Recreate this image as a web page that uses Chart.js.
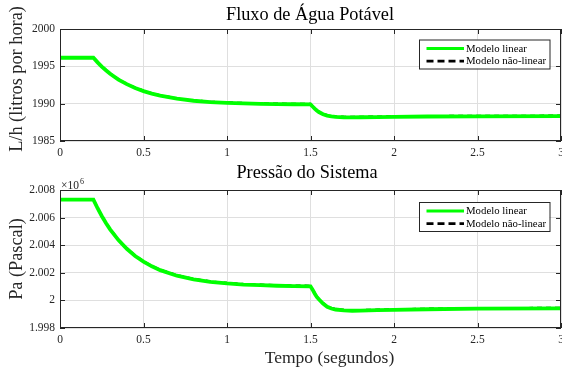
<!DOCTYPE html>
<html>
<head>
<meta charset="utf-8">
<script src="https://cdn.jsdelivr.net/npm/chart.js@4.4.1/dist/chart.umd.min.js"></script>
<style>
  html, body { margin: 0; padding: 0; background: #fff; }
  body { width: 562px; height: 372px; overflow: hidden; position: relative; }
  canvas { position: absolute; left: 0; }
  #fluxo { top: 0; }
  #pressao { top: 160px; }
</style>
</head>
<body>
<canvas id="fluxo" width="600" height="170"></canvas>
<canvas id="pressao" width="600" height="212"></canvas>
<script>
// ==== データ====
const tempo = [0, 0.2, 0.225, 0.25, 0.275, 0.3, 0.35, 0.4, 0.45, 0.5, 0.55, 0.6,
  0.7, 0.8, 0.9, 1.0, 1.1, 1.2, 1.3, 1.4, 1.5,
  1.5125, 1.525, 1.5375, 1.55, 1.575, 1.6, 1.625, 1.65,
  1.7, 1.75, 1.8, 1.9, 2.0, 2.2, 2.5, 3.0];

// Fluxo de Água Potável (L/h)
const fluxoLinear = [1996.15, 1996.15, 1995.53, 1994.97, 1994.47, 1994.01, 1993.23, 1992.61, 1992.09, 1991.68, 1991.34, 1991.07,
  1990.66, 1990.39, 1990.22, 1990.11, 1990.03, 1989.98, 1989.94, 1989.92, 1989.90,
  1989.62, 1989.33, 1989.08, 1988.88, 1988.58, 1988.40, 1988.29, 1988.23,
  1988.18, 1988.17, 1988.18, 1988.21, 1988.24, 1988.28, 1988.31, 1988.33];
const fluxoNaoLinear = [1996.25, 1996.25, 1995.63, 1995.07, 1994.57, 1994.11, 1993.33, 1992.71, 1992.19, 1991.78, 1991.44, 1991.17,
  1990.76, 1990.49, 1990.32, 1990.21, 1990.13, 1990.08, 1990.04, 1990.02, 1990.00,
  1989.72, 1989.44, 1989.19, 1988.98, 1988.68, 1988.50, 1988.39, 1988.33,
  1988.28, 1988.27, 1988.28, 1988.31, 1988.34, 1988.38, 1988.41, 1988.43];

// Pressão do Sistema (×10^6 Pa)
const pressaoLinear = [2.00730, 2.00730, 2.00668, 2.00612, 2.00561, 2.00515, 2.00437, 2.00374, 2.00322, 2.00281, 2.00247, 2.00219,
  2.00179, 2.00152, 2.00134, 2.00123, 2.00115, 2.00110, 2.00106, 2.00104, 2.00102,
  2.00078, 2.00050, 2.00025, 2.00008, 1.99977, 1.99954, 1.99941, 1.99934,
  1.99927, 1.99925, 1.99926, 1.99929, 1.99932, 1.99936, 1.99940, 1.99942];
const pressaoNaoLinear = [2.00736, 2.00736, 2.00674, 2.00618, 2.00567, 2.00521, 2.00443, 2.00380, 2.00328, 2.00287, 2.00253, 2.00225,
  2.00185, 2.00158, 2.00140, 2.00129, 2.00121, 2.00116, 2.00112, 2.00110, 2.00108,
  2.00084, 2.00057, 2.00032, 2.00014, 1.99983, 1.99960, 1.99947, 1.99940,
  1.99933, 1.99931, 1.99932, 1.99935, 1.99938, 1.99942, 1.99946, 1.99948];

// 目盛り
const xTicks = [0, 0.5, 1, 1.5, 2, 2.5, 3];
const xTickLabels = ["0", "0.5", "1", "1.5", "2", "2.5", "3"];
const yTicksFluxo = [1985, 1990, 1995, 2000];
const yTickLabelsFluxo = ["1985", "1990", "1995", "2000"];
const yTicksPressao = [1.998, 2, 2.002, 2.004, 2.006, 2.008];
const yTickLabelsPressao = ["1.998", "2", "2.002", "2.004", "2.006", "2.008"];

const serieLabels = ["Modelo linear", "Modelo não-linear"];

// ==== スタイル ====
const SERIF = '"Liberation Serif", "Times New Roman", serif';
const AXIS_COLOR = "#262626";
const GRID_COLOR = "#dfdfdf";

function serie(ys) { return tempo.map((t, i) => ({ x: t, y: ys[i] })); }

/** MATLAB 風の枠・内向き目盛り・凡例・文字 */
const matlabLook = {
  id: "matlabLook",
  afterDraw(chart, args, o) {
    const { ctx, chartArea: a, scales } = chart;
    ctx.save();

    // 枠
    ctx.strokeStyle = AXIS_COLOR;
    ctx.lineWidth = 1;
    ctx.strokeRect(a.left + 0.5, a.top + 0.5, a.right - a.left - 1, a.bottom - a.top - 1);

    // 内向き目盛り
    const TL = 5;
    ctx.beginPath();
    scales.x.ticks.forEach(t => {
      const px = Math.round(scales.x.getPixelForValue(t.value)) + 0.5;
      ctx.moveTo(px, a.bottom); ctx.lineTo(px, a.bottom - TL);
      ctx.moveTo(px, a.top); ctx.lineTo(px, a.top + TL);
    });
    scales.y.ticks.forEach(t => {
      const py = Math.round(scales.y.getPixelForValue(t.value)) + 0.5;
      ctx.moveTo(a.left, py); ctx.lineTo(a.left + TL, py);
      ctx.moveTo(a.right, py); ctx.lineTo(a.right - TL, py);
    });
    ctx.stroke();

    // 凡例
    const bx = o.legendLeft, by = a.top + o.legendTop, bw = 130.5, bh = 29;
    ctx.fillStyle = "#fff";
    ctx.fillRect(bx, by, bw, bh);
    ctx.strokeStyle = AXIS_COLOR;
    ctx.lineWidth = 1;
    ctx.strokeRect(bx + 0.5, by + 0.5, bw, bh);
    ctx.font = `10.8px ${SERIF}`;
    ctx.textBaseline = "middle";
    ctx.textAlign = "left";
    chart.data.datasets.forEach((ds, i) => {
      const ly = by + 9 + i * 12.6;
      ctx.save();
      ctx.strokeStyle = ds.borderColor;
      ctx.lineWidth = i === 0 ? 3 : 2.6;
      ctx.setLineDash(ds.borderDash ? [7, 4] : []);
      ctx.beginPath();
      ctx.moveTo(bx + 7.5, ly); ctx.lineTo(bx + 45, ly);
      ctx.stroke();
      ctx.restore();
      ctx.fillStyle = "#000";
      ctx.fillText(ds.label, bx + 47, ly + 0.5);
    });

    // タイトル
    ctx.fillStyle = "#000";
    ctx.textBaseline = "alphabetic";
    ctx.textAlign = "center";
    ctx.font = `18.3px ${SERIF}`;
    ctx.fillText(o.title, o.titleX, o.titleY);

    // x 軸ラベル
    if (o.xLabel) {
      ctx.fillStyle = AXIS_COLOR;
      ctx.font = `17.5px ${SERIF}`;
      ctx.fillText(o.xLabel, o.xLabelX, o.xLabelY);
    }

    // y 軸ラベル（回転）
    ctx.fillStyle = AXIS_COLOR;
    ctx.font = `18.3px ${SERIF}`;
    ctx.save();
    ctx.translate(22, o.yLabelY);
    ctx.rotate(-Math.PI / 2);
    ctx.fillText(o.yLabel, 0, 0);
    ctx.restore();

    // ×10^6
    if (o.exponent) {
      ctx.textAlign = "left";
      ctx.font = `11.5px ${SERIF}`;
      ctx.fillText("×10", 61, o.exponentY);
      ctx.font = `8px ${SERIF}`;
      ctx.fillText(o.exponent, 80, o.exponentY - 4.4);
    }
    ctx.restore();
  }
};

function makeChart(canvasId, linear, naoLinear, yTicks, yTickLabels, yMin, yMax, xAxisHeight, padTop, deco) {
  const ctx = document.getElementById(canvasId).getContext("2d");
  return new Chart(ctx, {
    type: "line",
    data: {
      datasets: [
        { label: serieLabels[0], data: serie(linear), borderColor: "#00ff00", borderWidth: 3.8,
          pointRadius: 0, tension: 0, fill: false },
        { label: serieLabels[1], data: serie(naoLinear), borderColor: "#000000", borderWidth: 1.6,
          borderDash: [5, 4], pointRadius: 0, tension: 0, fill: false }
      ]
    },
    options: {
      responsive: false,
      maintainAspectRatio: false,
      animation: false,
      events: [],
      layout: { padding: { top: padTop, left: 0, right: 39, bottom: 0 } },
      plugins: { legend: { display: false }, tooltip: { enabled: false }, matlabLook: deco },
      scales: {
        x: {
          type: "linear", min: 0, max: 3,
          afterBuildTicks: s => { s.ticks = xTicks.map(v => ({ value: v })); },
          afterFit: s => { s.height = xAxisHeight; },
          ticks: {
            callback: v => xTickLabels[xTicks.indexOf(v)] ?? "",
            font: { family: SERIF, size: 11.5 }, color: AXIS_COLOR, padding: 5, maxRotation: 0
          },
          grid: { color: GRID_COLOR, drawTicks: false },
          border: { display: false }
        },
        y: {
          type: "linear", min: yMin, max: yMax,
          afterBuildTicks: s => { s.ticks = yTicks.map(v => ({ value: v })); },
          afterFit: s => { s.width = 60; },
          ticks: {
            callback: v => yTickLabels[yTicks.indexOf(v)] ?? "",
            font: { family: SERIF, size: 11.5 }, color: AXIS_COLOR, padding: 5
          },
          grid: { color: GRID_COLOR, drawTicks: false },
          border: { display: false }
        }
      }
    },
    plugins: [matlabLook]
  });
}

makeChart("fluxo", fluxoLinear, fluxoNaoLinear, yTicksFluxo, yTickLabelsFluxo, 1985, 2000, 29, 29, {
  title: "Fluxo de Água Potável", titleX: 310, titleY: 20,
  yLabel: "L/h (litros por hora)", yLabelY: 79,
  legendLeft: 419, legendTop: 10.5
});

makeChart("pressao", pressaoLinear, pressaoNaoLinear, yTicksPressao, yTickLabelsPressao, 1.998, 2.008, 44, 30, {
  title: "Pressão do Sistema", titleX: 307, titleY: 18.3,
  yLabel: "Pa (Pascal)", yLabelY: 99,
  xLabel: "Tempo (segundos)", xLabelX: 329.5, xLabelY: 203.3,
  exponent: "6", exponentY: 28.7,
  legendLeft: 419, legendTop: 12
});
</script>
</body>
</html>
